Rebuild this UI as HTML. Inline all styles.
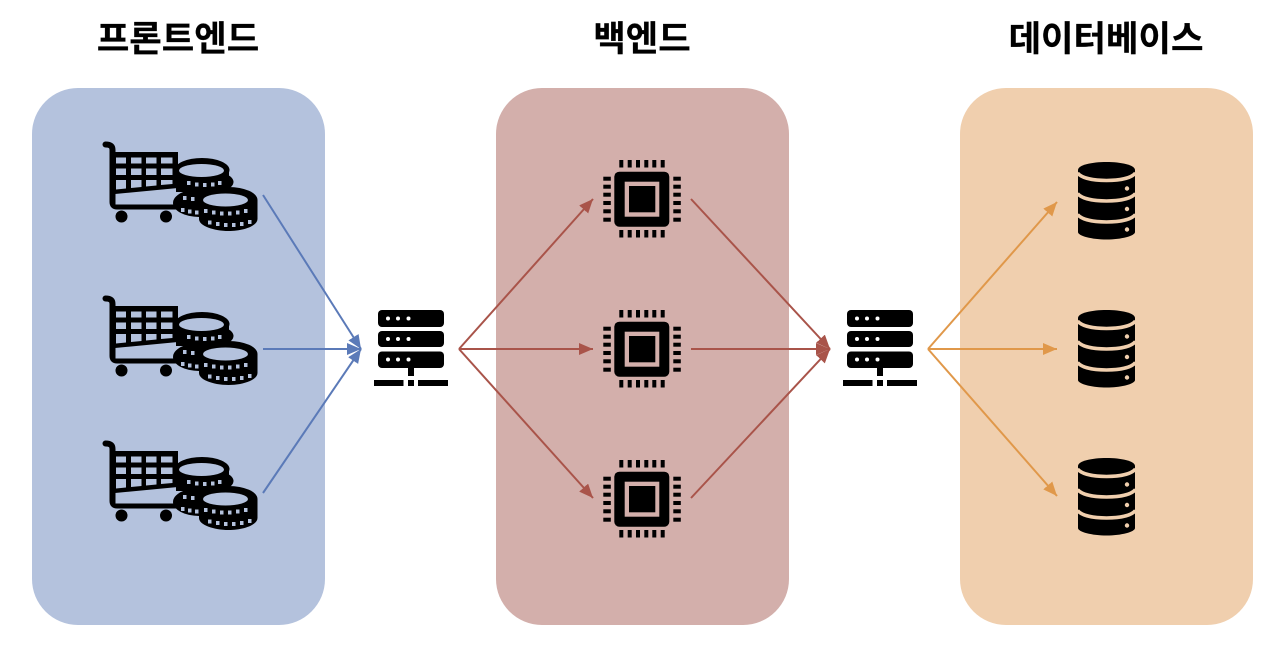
<!DOCTYPE html>
<html lang="ko"><head><meta charset="utf-8"><title>프론트엔드 백엔드 데이터베이스</title>
<style>
html,body{margin:0;padding:0;background:#fff;width:1288px;height:658px;overflow:hidden}
svg{display:block}
text{font-family:"Liberation Sans","Noto Sans CJK KR","NanumGothic",sans-serif;font-weight:700;font-size:35.3px;fill:#000;stroke:#000;stroke-width:.25;text-anchor:middle}
</style></head><body>
<svg width="1288" height="658" viewBox="0 0 1288 658" xmlns="http://www.w3.org/2000/svg">
<defs>
<marker id="b" markerUnits="userSpaceOnUse" markerWidth="15" markerHeight="13" refX="14" refY="6" orient="auto"><path d="M0 0L14 6L0 12z" fill="#5B7AB8"/></marker>
<marker id="r" markerUnits="userSpaceOnUse" markerWidth="15" markerHeight="13" refX="14" refY="6" orient="auto"><path d="M0 0L14 6L0 12z" fill="#A9544A"/></marker>
<marker id="o" markerUnits="userSpaceOnUse" markerWidth="15" markerHeight="13" refX="14" refY="6" orient="auto"><path d="M0 0L14 6L0 12z" fill="#E0984A"/></marker>

<g id="cart">
<path d="M105.500 144.500 C110 144.500 112.500 146 112.500 150 V202 C112.500 205 114 206.500 117 206.500 H176" fill="none" stroke="#000" stroke-width="6" stroke-linecap="round"/>
<path d="M115 152 H178 V188 L115 194z" fill="#000"/>
<path d="M115.500 196 L175 190.500 V204.500 H115.500z" fill="#B4C2DD"/>
<g fill="#B4C2DD">
<rect x="116" y="157.500" width="10" height="6"/><rect x="131" y="157.500" width="10.500" height="6"/><rect x="146" y="157.500" width="10.500" height="6"/><rect x="161" y="157.500" width="11.500" height="6"/>
<rect x="116" y="168.500" width="10" height="6.500"/><rect x="131" y="168.500" width="10.500" height="6.500"/><rect x="146" y="168.500" width="10.500" height="6.500"/><rect x="161" y="168.500" width="11.500" height="6.500"/>
<path d="M116 180H126V188.500L116 189.500zM131 180H141.500V187L131 188zM146 180H156.500V185.500L146 186.500zM161 180H172.500V184L161 185z"/>
</g>
<circle cx="121.500" cy="216.500" r="6" fill="#000"/><circle cx="166" cy="216.500" r="6" fill="#000"/>
<!-- coin stack -->
<ellipse cx="202" cy="170" rx="27.500" ry="12" fill="#000"/>
<ellipse cx="205" cy="182" rx="28.500" ry="12" fill="#000"/>
<ellipse cx="199" cy="203" rx="26" ry="14" fill="#000"/>
<path d="M176 170H229V192H176z" fill="#000"/>
<path d="M199 200 H257.500 V219 C257.500 226 243 231 228.500 231 C214 231 199 226 199 219z" fill="#000"/>
<ellipse cx="228.500" cy="200" rx="29" ry="13" fill="#000"/>
<ellipse cx="201.500" cy="170.500" rx="22.500" ry="6.500" fill="#B4C2DD"/>
<ellipse cx="225.500" cy="200" rx="22.500" ry="6.500" fill="#B4C2DD"/>
<g fill="#B4C2DD">
<rect x="187" y="181" width="3.500" height="4"/><rect x="195" y="182.500" width="3.500" height="4"/><rect x="203" y="183" width="3.500" height="4"/><rect x="211" y="182.500" width="3.500" height="4"/><rect x="218" y="181" width="3.500" height="4"/>
<rect x="183" y="196" width="3.500" height="4"/><rect x="191" y="197" width="3.500" height="4"/>
<rect x="181" y="208" width="3.500" height="4"/><rect x="188" y="209.500" width="3.500" height="4"/><rect x="195" y="210.500" width="3.500" height="4"/>
<rect x="204" y="209" width="3.500" height="4"/><rect x="212" y="210.500" width="3.500" height="4"/><rect x="220" y="211.500" width="3.500" height="4"/><rect x="228" y="211.500" width="3.500" height="4"/><rect x="236" y="210.500" width="3.500" height="4"/><rect x="244" y="209" width="3.500" height="4"/>
<rect x="208" y="220.500" width="3.500" height="4"/><rect x="216" y="222" width="3.500" height="4"/><rect x="224" y="223" width="3.500" height="4"/><rect x="232" y="223" width="3.500" height="4"/><rect x="240" y="222" width="3.500" height="4"/><rect x="248" y="220" width="3.500" height="4"/>
</g>
</g>

<g id="server">
<rect x="378" y="310" width="66" height="17" rx="4" fill="#000"/>
<rect x="378" y="331" width="66" height="16" rx="4" fill="#000"/>
<rect x="378" y="351.500" width="66" height="16.500" rx="4" fill="#000"/>
<rect x="408" y="368" width="6" height="8" fill="#000"/>
<rect x="374" y="380" width="29.500" height="6" fill="#000"/>
<rect x="408" y="380" width="6" height="6" fill="#000"/>
<rect x="418" y="380" width="30" height="6" fill="#000"/>
<g fill="#fff"><circle cx="388" cy="318.500" r="2"/><circle cx="398" cy="318.500" r="2"/><circle cx="408.500" cy="318.500" r="2"/>
<circle cx="388" cy="339" r="2"/><circle cx="398" cy="339" r="2"/><circle cx="408.500" cy="339" r="2"/>
<circle cx="388" cy="359.500" r="2"/><circle cx="398" cy="359.500" r="2"/><circle cx="408.500" cy="359.500" r="2"/></g>
</g>

<g id="cpu">
<rect x="614.300" y="171.700" width="55" height="55" rx="5" fill="#000"/>
<rect x="624.700" y="181.700" width="34.600" height="35" fill="#D3AFAB"/>
<rect x="629" y="186" width="26.300" height="26.300" fill="#000"/>
<g fill="#000">
<rect x="619.300" y="160" width="4" height="7.500"/><rect x="627.700" y="160" width="4" height="7.500"/><rect x="636" y="160" width="4" height="7.500"/><rect x="644.300" y="160" width="4" height="7.500"/><rect x="652.300" y="160" width="4" height="7.500"/><rect x="660.700" y="160" width="4" height="7.500"/>
<rect x="619.300" y="230" width="4" height="7.500"/><rect x="627.700" y="230" width="4" height="7.500"/><rect x="636" y="230" width="4" height="7.500"/><rect x="644.300" y="230" width="4" height="7.500"/><rect x="652.300" y="230" width="4" height="7.500"/><rect x="660.700" y="230" width="4" height="7.500"/>
<rect x="603.300" y="176.700" width="7.500" height="4"/><rect x="603.300" y="184.700" width="7.500" height="4"/><rect x="603.300" y="192.700" width="7.500" height="4"/><rect x="603.300" y="201" width="7.500" height="4"/><rect x="603.300" y="209.300" width="7.500" height="4"/><rect x="603.300" y="217.700" width="7.500" height="4"/>
<rect x="673.300" y="176.700" width="7.500" height="4"/><rect x="673.300" y="184.700" width="7.500" height="4"/><rect x="673.300" y="192.700" width="7.500" height="4"/><rect x="673.300" y="201" width="7.500" height="4"/><rect x="673.300" y="209.300" width="7.500" height="4"/><rect x="673.300" y="217.700" width="7.500" height="4"/>
</g>
</g>

<g id="db">
<path d="M1078 170 C1078 165 1092 162 1106.500 162 C1121 162 1135 165 1135 170 V232 C1135 236 1121 239.500 1106.500 239.500 C1092 239.500 1078 236 1078 232z" fill="#000"/>
<path d="M1077.500 173 C1082 178.500 1094 180.500 1106.500 180.500 C1119 180.500 1131 178.500 1135.500 173" fill="none" stroke="#F0CFAE" stroke-width="3.600"/>
<path d="M1077.500 193.500 C1082 199 1094 201 1106.500 201 C1119 201 1131 199 1135.500 193.500" fill="none" stroke="#F0CFAE" stroke-width="3.600"/>
<path d="M1077.500 214.500 C1082 220 1094 222 1106.500 222 C1119 222 1131 220 1135.500 214.500" fill="none" stroke="#F0CFAE" stroke-width="3.600"/>
<circle cx="1127" cy="188.500" r="2.200" fill="#F0CFAE"/><circle cx="1127" cy="209" r="2.200" fill="#F0CFAE"/><circle cx="1127" cy="229.500" r="2.200" fill="#F0CFAE"/>
</g>
</defs>

<rect x="32" y="88" width="293" height="537" rx="46" fill="#B4C2DD"/>
<rect x="496" y="88" width="293" height="537" rx="46" fill="#D3AFAB"/>
<rect x="960" y="88" width="293" height="537" rx="46" fill="#F0CFAE"/>

<text x="178" y="51">프론트엔드</text>
<text x="642" y="51">백엔드</text>
<text x="1106" y="51">데이터베이스</text>

<use href="#cart"/>
<use href="#cart" y="154"/>
<use href="#cart" y="299"/>

<use href="#server"/>
<use href="#server" x="469"/>

<use href="#cpu"/>
<use href="#cpu" y="150"/>
<use href="#cpu" y="300"/>

<use href="#db"/>
<use href="#db" y="148"/>
<use href="#db" y="296"/>

<g fill="none" stroke-width="2">
<g stroke="#5B7AB8">
<line x1="263" y1="195" x2="361" y2="349" marker-end="url(#b)"/>
<line x1="263" y1="349" x2="361" y2="349" marker-end="url(#b)"/>
<line x1="263" y1="493" x2="361" y2="349" marker-end="url(#b)"/>
</g>
<g stroke="#A9544A">
<line x1="459" y1="349" x2="593" y2="199" marker-end="url(#r)"/>
<line x1="459" y1="349" x2="593" y2="349" marker-end="url(#r)"/>
<line x1="459" y1="349" x2="593" y2="498" marker-end="url(#r)"/>
<line x1="691" y1="199" x2="830" y2="349" marker-end="url(#r)"/>
<line x1="691" y1="349" x2="830" y2="349" marker-end="url(#r)"/>
<line x1="691" y1="498" x2="830" y2="349" marker-end="url(#r)"/>
</g>
<g stroke="#E0984A">
<line x1="928" y1="349" x2="1057" y2="202" marker-end="url(#o)"/>
<line x1="928" y1="349" x2="1057" y2="349" marker-end="url(#o)"/>
<line x1="928" y1="349" x2="1057" y2="496" marker-end="url(#o)"/>
</g>
</g>
</svg>
</body></html>
